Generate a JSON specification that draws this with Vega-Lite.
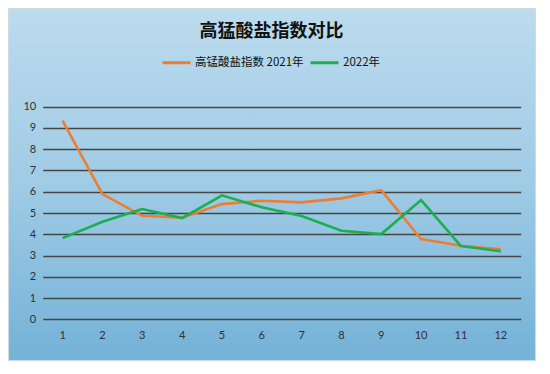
{
  "$schema": "https://vega.github.io/schema/vega-lite/v6.json",
  "width": 527,
  "height": 352,
  "autosize": {"type": "none"},
  "padding": {"left": 8, "top": 8, "right": 15, "bottom": 14},
  "background": "white",
  "config": {
    "view": {
      "fill": {"gradient": "linear", "x1": 0, "y1": 0, "x2": 0, "y2": 1,
        "stops": [{"offset": 0, "color": "#bcdbee"}, {"offset": 0.5, "color": "#9fcbe5"}, {"offset": 1, "color": "#74b2d7"}]},
      "stroke": "#cfdbe3"
    }
  },
  "title": {
    "text": "高猛酸盐指数对比",
    "font": "Noto Sans CJK SC",
    "fontSize": 18,
    "fontWeight": "bold",
    "color": "#111111",
    "anchor": "middle",
    "baseline": "middle",
    "offset": -42
  },
  "data": {
    "values": [
      {"month": 1, "series": "高锰酸盐指数 2021年", "value": 9.34},
      {"month": 2, "series": "高锰酸盐指数 2021年", "value": 5.89},
      {"month": 3, "series": "高锰酸盐指数 2021年", "value": 4.87},
      {"month": 4, "series": "高锰酸盐指数 2021年", "value": 4.78},
      {"month": 5, "series": "高锰酸盐指数 2021年", "value": 5.42},
      {"month": 6, "series": "高锰酸盐指数 2021年", "value": 5.58},
      {"month": 7, "series": "高锰酸盐指数 2021年", "value": 5.5},
      {"month": 8, "series": "高锰酸盐指数 2021年", "value": 5.69},
      {"month": 9, "series": "高锰酸盐指数 2021年", "value": 6.07},
      {"month": 10, "series": "高锰酸盐指数 2021年", "value": 3.78},
      {"month": 11, "series": "高锰酸盐指数 2021年", "value": 3.46},
      {"month": 12, "series": "高锰酸盐指数 2021年", "value": 3.29},
      {"month": 1, "series": "2022年", "value": 3.82},
      {"month": 2, "series": "2022年", "value": 4.59},
      {"month": 3, "series": "2022年", "value": 5.19},
      {"month": 4, "series": "2022年", "value": 4.76},
      {"month": 5, "series": "2022年", "value": 5.83},
      {"month": 6, "series": "2022年", "value": 5.27},
      {"month": 7, "series": "2022年", "value": 4.86},
      {"month": 8, "series": "2022年", "value": 4.17},
      {"month": 9, "series": "2022年", "value": 4.01},
      {"month": 10, "series": "2022年", "value": 5.61},
      {"month": 11, "series": "2022年", "value": 3.45},
      {"month": 12, "series": "2022年", "value": 3.2}
    ]
  },
  "mark": {"type": "line", "strokeWidth": 2.6},
  "encoding": {
    "x": {
      "field": "month",
      "type": "ordinal",
      "scale": {"type": "band", "paddingInner": 0, "paddingOuter": 0.615, "align": 0.708},
      "axis": {
        "title": null,
        "labelAngle": 0,
        "ticks": false,
        "domain": false,
        "grid": false,
        "offset": -33,
        "labelPadding": 2,
        "labelFont": "Lato",
        "labelFontSize": 11,
        "labelColor": "#303030"
      }
    },
    "y": {
      "field": "value",
      "type": "quantitative",
      "scale": {"domain": [-1.91, 14.64], "nice": false, "zero": false},
      "axis": {
        "title": null,
        "values": [0, 1, 2, 3, 4, 5, 6, 7, 8, 9, 10],
        "domain": false,
        "grid": false,
        "ticks": true,
        "tickSize": -478,
        "tickColor": "#454545",
        "tickWidth": 1.3,
        "offset": -34.7,
        "labelPadding": 485,
        "labelFont": "Lato",
        "labelFontSize": 11,
        "labelColor": "#303030"
      }
    },
    "color": {
      "field": "series",
      "type": "nominal",
      "scale": {"domain": ["高锰酸盐指数 2021年", "2022年"], "range": ["#ED7D31", "#1DAE4F"]},
      "legend": {
        "title": null,
        "orient": "none",
        "direction": "horizontal",
        "legendX": 153,
        "legendY": 39,
        "padding": 0,
        "symbolType": "stroke",
        "symbolSize": 784,
        "symbolStrokeWidth": 3,
        "labelFont": "Noto Sans CJK SC",
        "labelFontSize": 11.5,
        "labelColor": "#111111",
        "labelOffset": 3,
        "columnPadding": 0
      }
    }
  }
}
